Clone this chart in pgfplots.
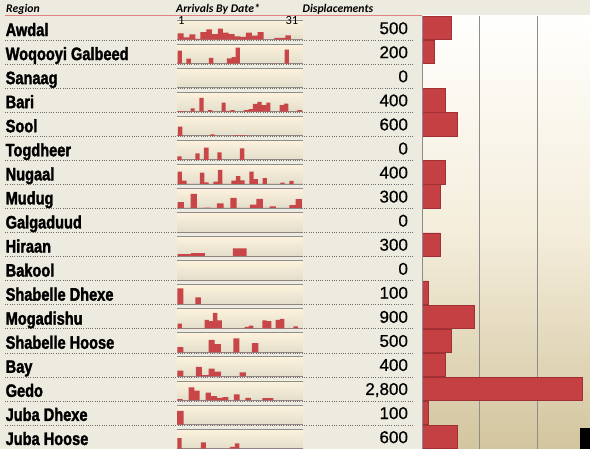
\documentclass[border=0pt]{standalone}
\usepackage{fontspec}
\setmainfont{Liberation Sans}
\newfontfamily\hdrfont{Carlito}
\newfontfamily\namefont[FakeStretch=0.81,FakeBold=1.8,UprightFont={* Bold}]{Liberation Sans}
\newfontfamily\numfont[FakeBold=0.7]{Liberation Sans}
\usepackage{pgfplots}
\pgfplotsset{compat=1.18}
\definecolor{pagebg}{RGB}{237,234,223}
\definecolor{barred}{RGB}{196,64,66}
\definecolor{bardark}{RGB}{160,48,52}
\definecolor{sparkred}{RGB}{200,70,72}
\definecolor{hdrline}{RGB}{222,130,130}
\definecolor{sparktop}{RGB}{253,242,220}
\definecolor{sparkbot}{RGB}{226,222,203}
\definecolor{plottop}{RGB}{255,255,253}
\definecolor{plotmid}{RGB}{244,237,219}
\definecolor{plotbot}{RGB}{210,197,158}
\definecolor{sepgray}{RGB}{110,110,110}
\definecolor{linegray}{RGB}{140,140,140}
\pgfplotsset{
  spark/.style={anchor=south west, scale only axis, width=126pt, height=19.5pt,
    xmin=0, xmax=378, ymin=0, ymax=60,
    axis x line=box, axis y line=none, xtick=\empty, ytick=\empty,
    axis line style={draw=linegray, line width=0.8pt},
    axis background/.style={top color=sparktop, bottom color=sparkbot}},
}
\newcommand{\spark}[2]{%
  \begin{axis}[spark, at={(177pt,{(433.5-24.06*(#1+1))*1pt})}]
    \addplot[const plot, fill=sparkred, draw=none] coordinates {#2} \closedcycle;
  \end{axis}}
\begin{document}
\begin{tikzpicture}
\fill[pagebg] (0,0) rectangle (590pt,449pt);
\foreach \k in {1,...,17} {
  \draw[sepgray, line width=0.6pt, dash pattern=on 0.7pt off 1.6pt] (5pt,{(433-24.06*\k)*1pt}) -- (413pt,{(433-24.06*\k)*1pt});
}
\draw[hdrline, line width=1pt] (5pt,433.5pt) -- (422pt,433.5pt);
\node[anchor=base west, inner sep=0pt, font=\hdrfont\bfseries\itshape\fontsize{11.7}{12}\selectfont] at (6pt,436pt) {Region};
\node[anchor=base west, inner sep=0pt, font=\hdrfont\bfseries\itshape\fontsize{11.7}{12}\selectfont] at (176pt,436pt) {Arrivals By Date*};
\node[anchor=base west, inner sep=0pt, font=\hdrfont\bfseries\itshape\fontsize{11.7}{12}\selectfont] at (302.5pt,436pt) {Displacements};

\begin{axis}[
  at={(422.7pt,0pt)}, anchor=south west, scale only axis,
  width=167.3pt, height=433pt,
  xmin=0, xmax=2930, ymin=-0.5, ymax=17.5, y dir=reverse,
  axis line style={draw=none},
  axis background/.style={top color=plottop, bottom color=plotbot, middle color=plotmid},
  xtick={1000,2000}, xticklabels={}, xmajorgrids,
  grid style={draw=linegray, line width=0.7pt},
  major tick length=0pt,
  ytick={0,...,17},
  yticklabels={Awdal,Woqooyi Galbeed,Sanaag,Bari,Sool,Togdheer,Nugaal,Mudug,Galgaduud,Hiraan,Bakool,Shabelle Dhexe,Mogadishu,Shabelle Hoose,Bay,Gedo,Juba Dhexe,Juba Hoose},
  yticklabel style={anchor=base west, inner sep=0pt, xshift=-417.2pt, yshift=-8pt, text=black,
    font=\namefont\fontsize{18}{18}\selectfont},
  clip=false,
]
\addplot[xbar, bar width=0.97, bar shift=0pt, fill=barred, draw=bardark, line width=0.5pt]
  coordinates {(500,0) (200,1) (400,3) (600,4) (400,6) (300,7) (300,9) (100,11) (900,12) (500,13) (400,14) (2800,15) (100,16) (600,17)};
\addplot[draw=none, mark=none, nodes near coords, point meta=explicit symbolic,
  nodes near coords style={anchor=base east, inner sep=0pt, xshift=-14.6pt, yshift=-6.1pt, text=black, font=\numfont\fontsize{17}{17}\selectfont}]
  coordinates {(0,0)[500] (0,1)[200] (0,2)[0] (0,3)[400] (0,4)[600] (0,5)[0] (0,6)[400] (0,7)[300] (0,8)[0] (0,9)[300] (0,10)[0] (0,11)[100] (0,12)[900] (0,13)[500] (0,14)[400] (0,15)[2{,}800] (0,16)[100] (0,17)[600]};
\draw[linegray, line width=0.8pt] (axis cs:0,-0.5) -- (axis cs:0,17.5);
\end{axis}

\spark{0}{(0,0) (2,19) (20,7) (37,16) (55,2) (70,23) (88,31) (105,17) (123,34) (138,21) (155,17) (173,10) (190,8) (207,21) (225,12) (242,23) (260,0) (292,5) (308,5) (325,13) (342,0) (378,0)}
\spark{1}{(0,0) (2,40) (15,0) (28,15) (42,0) (96,18) (109,0) (150,16) (164,20) (176,49) (189,0) (323,43) (336,0) (378,0)}
\spark{2}{(0,0) (378,0)}
\spark{3}{(0,0) (1,2) (28,0) (41,10) (53,0) (67,43) (80,0) (93,5) (106,0) (134,28) (146,3) (161,5) (173,0) (201,5) (215,8) (228,24) (241,30) (254,20) (268,28) (280,0) (308,20) (321,25) (334,0) (361,5) (375,0) (378,0)}
\spark{4}{(0,0) (3,28) (16,0) (100,4) (113,0) (169,1.5) (209,0) (378,0)}
\spark{5}{(0,0) (1,11) (14,0) (55,20) (68,0) (81,38) (95,0) (121,23) (134,0) (189,35) (202,0) (378,0)}
\spark{6}{(0,0) (2,38) (15,10) (29,0) (69,35) (82,5) (95,0) (109,7) (123,43) (136,0) (163,10) (177,24) (190,11) (203,0) (217,38) (230,15) (243,0) (257,18) (270,0) (310,4) (323,0) (337,9) (350,0) (378,0)}
\spark{7}{(0,0) (2,18) (21,0) (41,43) (60,0) (81,1) (100,0) (120,14) (140,0) (160,31) (179,0) (219,10) (238,28) (258,0) (278,5) (297,0) (337,9) (356,27) (375,0) (378,0)}
\spark{8}{(0,0) (378,0)}
\spark{9}{(0,0) (2,6) (42,9) (84,0) (168,24) (209,0) (378,0)}
\spark{10}{(0,0) (378,0)}
\spark{11}{(0,0) (1,49) (19,0) (55,21) (72,0) (378,0)}
\spark{12}{(0,0) (2,14) (15,0) (83,26) (96,22) (108,47) (121,24) (135,0) (203,4) (216,8) (229,0) (256,24) (269,22) (283,0) (296,26) (309,29) (322,0) (349,6) (363,0) (378,0)}
\spark{13}{(0,0) (1,16) (19,0) (95,38) (113,25) (132,0) (169,43) (187,0) (225,28) (244,0) (378,0)}
\spark{14}{(0,0) (1,18) (19,0) (57,29) (75,4) (95,24) (113,15) (132,0) (188,12) (207,0) (378,0)}
\spark{15}{(0,0) (1,4) (17,0) (35,40) (52,30) (68,0) (86,24) (102,13) (120,8) (137,10) (154,0) (171,19) (188,0) (205,8) (222,0) (256,7) (289,0) (378,0)}
\spark{16}{(0,0) (0.5,42) (20,0) (378,0)}
\spark{17}{(0,0) (1,32) (14,0) (72,19) (87,0) (159,5) (174,16) (187,0) (378,0)}

\node[anchor=base west, inner sep=0pt, font=\hdrfont\fontsize{12.5}{13}\selectfont] at (178pt,424pt) {1};
\node[anchor=base east, inner sep=0pt, font=\hdrfont\fontsize{12.5}{13}\selectfont] at (298.5pt,424pt) {31};
\fill[black] (580pt,0pt) rectangle (590pt,21pt);
\pgfresetboundingbox
\useasboundingbox (0,0) rectangle (590pt,449pt);
\end{tikzpicture}
\end{document}
